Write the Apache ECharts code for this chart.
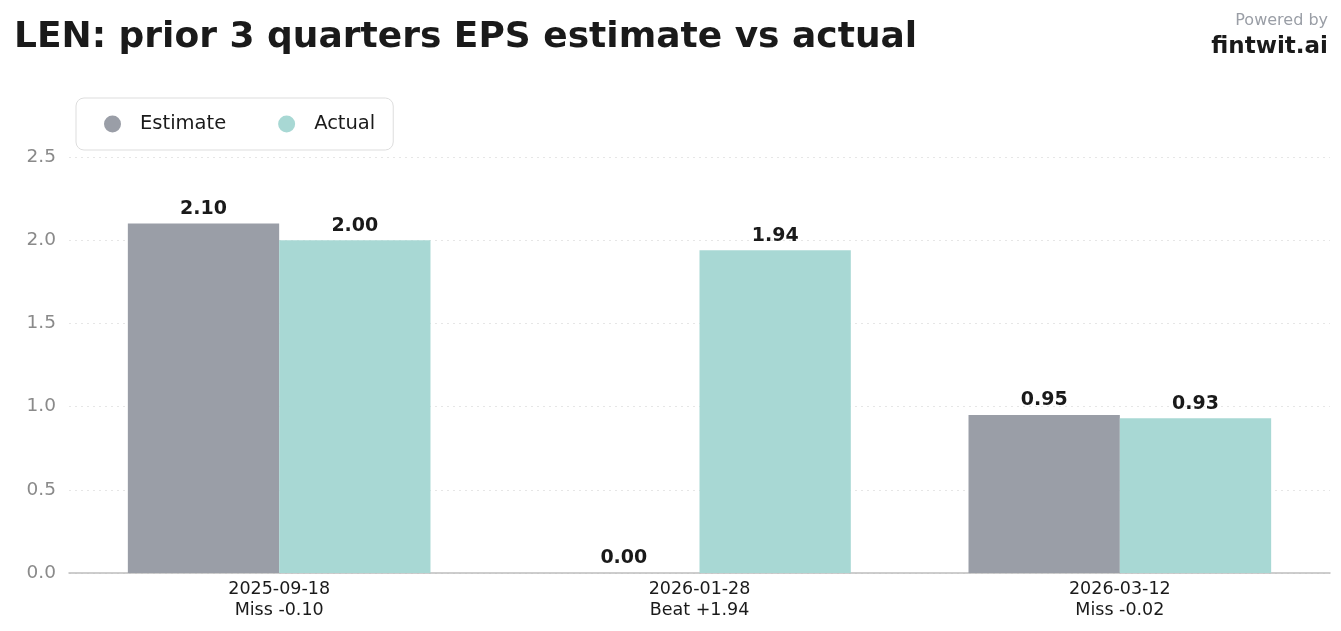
<!DOCTYPE html>
<html>
<head>
<meta charset="utf-8">
<script src="https://cdn.jsdelivr.net/npm/echarts@6/dist/echarts.min.js"></script>
<style>
  html, body { margin: 0; padding: 0; background: #fff; }
  #chart { width: 1341px; height: 631px; }
</style>
</head>
<body>
<div id="chart"></div>
<script>
// data
var dates = ['2025-09-18', '2026-01-28', '2026-03-12'];
var notes = ['Miss -0.10', 'Beat +1.94', 'Miss -0.02'];
var estimate = [2.10, 0.00, 0.95];
var actual = [2.00, 1.94, 0.93];
var yTicks = [0, 0.5, 1.0, 1.5, 2.0, 2.5];

var font = 'DejaVu Sans';
var categories = dates.map(function (d, i) { return d + '\n' + notes[i]; });

var chart = echarts.init(document.getElementById('chart'));

var labelStyle = {
  show: true,
  position: 'top',
  distance: 5,
  fontFamily: font,
  fontWeight: 'bold',
  fontSize: 19,
  color: '#1a1a1a',
  formatter: function (p) { return p.value.toFixed(2); }
};

chart.setOption({
  animation: false,
  textStyle: { fontFamily: font },
  title: [
    {
      text: 'LEN: prior 3 quarters EPS estimate vs actual',
      left: 9, top: 15,
      textStyle: { fontFamily: font, fontWeight: 'bold', fontSize: 36, color: '#1a1a1a' }
    },
    {
      text: 'Powered by',
      right: 8, top: 8,
      textStyle: { fontFamily: font, fontWeight: 'normal', fontSize: 16, color: '#9a9ea6' }
    },
    {
      text: 'fintwit.ai',
      right: 8, top: 31,
      textStyle: { fontFamily: font, fontWeight: 'bold', fontSize: 23, color: '#1a1a1a' }
    }
  ],
  legend: {
    left: 76, top: 98,
    padding: [16, 18, 16, 28],
    itemGap: 52,
    itemWidth: 17, itemHeight: 17,
    icon: 'circle',
    borderColor: '#dddddd',
    borderWidth: 1,
    borderRadius: 8,
    textStyle: { fontFamily: font, fontSize: 19.5, color: '#1a1a1a', padding: [0, 0, 0, 14] },
    data: ['Estimate', 'Actual']
  },
  grid: { left: 69, right: 11, top: 157, bottom: 58 },
  xAxis: {
    type: 'category',
    data: categories,
    axisLine: { lineStyle: { color: '#bdbdbd', width: 1.5 } },
    axisTick: { show: false },
    axisLabel: { fontFamily: font, fontSize: 17.5, color: '#1a1a1a', lineHeight: 21, margin: 6 }
  },
  yAxis: {
    type: 'value',
    min: 0, max: 2.5, interval: 0.5,
    axisLine: { show: false },
    axisTick: { show: false },
    axisLabel: {
      fontFamily: font, fontSize: 18.5, color: '#8a8a8a', margin: 13,
      padding: [4, 0, 0, 0],
      formatter: function (v) {
        var t = yTicks.find(function (y) { return Math.abs(y - v) < 1e-9; });
        return t === undefined ? '' : t.toFixed(1);
      }
    },
    splitLine: { lineStyle: { color: '#e6e6e6', type: [2, 4], width: 1 } }
  },
  series: [
    {
      name: 'Estimate',
      type: 'bar',
      data: estimate,
      barGap: '0%',
      barCategoryGap: '28%',
      itemStyle: { color: '#9a9ea7' },
      label: labelStyle
    },
    {
      name: 'Actual',
      type: 'bar',
      data: actual,
      itemStyle: { color: '#a8d8d4' },
      label: labelStyle
    }
  ]
});
</script>
</body>
</html>
